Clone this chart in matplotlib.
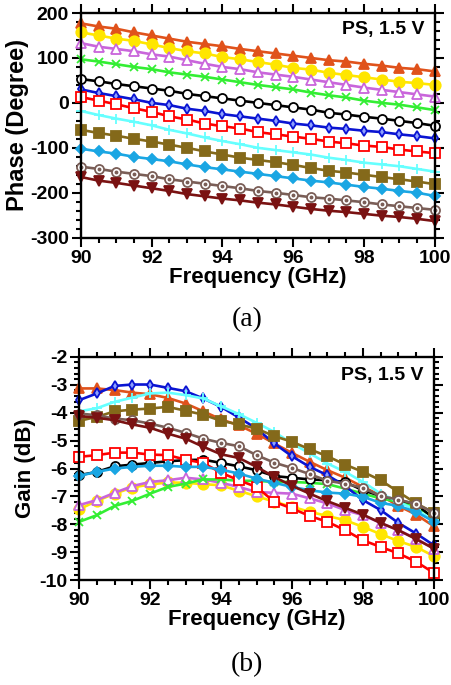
import numpy as np
import matplotlib
matplotlib.use("Agg")
import matplotlib.pyplot as plt
from matplotlib.ticker import MultipleLocator

plt.rcParams["font.family"] = ["Liberation Sans", "DejaVu Sans"]
plt.rcParams["font.weight"] = "bold"
plt.rcParams["axes.unicode_minus"] = False

freq = np.arange(90, 100.01, 0.5)

# phase (degree), top to bottom
ph_orange = [177, 170, 165, 157, 150, 143, 136, 131, 126, 120, 115, 110, 105, 100, 95, 92, 87, 83, 78, 75, 70]
ph_yellow = [157, 150, 143, 138, 130, 122, 115, 110, 102, 97, 91, 85, 78, 74, 67, 62, 57, 52, 47, 44, 40]
ph_violet = [133, 125, 120, 115, 108, 103, 95, 87, 80, 75, 68, 63, 58, 52, 46, 40, 34, 29, 24, 19, 14]
ph_green = [97, 92, 86, 80, 75, 68, 63, 58, 52, 46, 40, 35, 30, 23, 17, 12, 5, 0, -4, -10, -16]
ph_black = [53, 48, 42, 37, 32, 27, 20, 15, 10, 5, 0, -5, -10, -15, -22, -26, -31, -35, -40, -45, -51]
ph_blue = [30, 22, 15, 8, 0, -5, -13, -18, -25, -30, -35, -40, -46, -50, -55, -58, -62, -65, -70, -74, -79]
ph_red = [13, 5, -3, -12, -20, -30, -37, -46, -52, -57, -65, -70, -75, -80, -86, -90, -95, -98, -104, -108, -112]
ph_cyan = [-18, -27, -35, -42, -50, -60, -68, -77, -85, -92, -100, -105, -110, -115, -122, -127, -133, -137, -141, -147, -153]
ph_olive = [-60, -67, -73, -80, -86, -93, -100, -108, -115, -122, -127, -132, -138, -145, -151, -155, -160, -165, -170, -175, -181]
ph_ltblue = [-102, -108, -113, -120, -125, -130, -137, -143, -148, -153, -158, -163, -168, -173, -177, -182, -187, -191, -196, -200, -207]
ph_brown = [-142, -147, -153, -158, -163, -170, -175, -180, -185, -190, -196, -200, -205, -210, -213, -217, -221, -226, -230, -234, -238]
ph_darkred = [-165, -173, -178, -184, -190, -196, -203, -208, -213, -217, -222, -226, -231, -236, -240, -243, -247, -251, -254, -258, -263]

# gain (dB)
g_orange = [-3.13, -3.13, -3.19, -3.28, -3.34, -3.47, -3.67, -3.95, -4.24, -4.45, -4.75, -5.10, -5.44, -5.76, -6.06, -6.33, -6.66, -6.96, -7.34, -7.65, -8.07]
g_yellow = [-7.46, -7.16, -6.90, -6.68, -6.57, -6.50, -6.51, -6.56, -6.60, -6.80, -6.99, -7.19, -7.37, -7.55, -7.70, -7.85, -8.09, -8.35, -8.60, -8.81, -9.14]
g_violet = [-7.31, -7.13, -6.87, -6.63, -6.48, -6.42, -6.33, -6.39, -6.51, -6.66, -6.84, -6.87, -6.90, -7.07, -7.25, -7.49, -7.67, -7.95, -8.21, -8.51, -8.87]
g_green = [-7.91, -7.67, -7.34, -7.16, -6.90, -6.66, -6.54, -6.39, -6.39, -6.44, -6.44, -6.48, -6.48, -6.51, -6.56, -6.72, -6.90, -7.07, -7.19, -7.37, -7.73]
g_black = [-6.24, -6.12, -5.92, -5.86, -5.80, -5.74, -5.70, -5.68, -5.80, -5.92, -6.06, -6.27, -6.33, -6.39, -6.42, -6.48, -6.78, -6.98, -7.13, -7.28, -7.79]
g_blue = [-3.55, -3.31, -3.04, -2.99, -2.99, -3.11, -3.23, -3.49, -3.79, -4.17, -4.57, -5.10, -5.56, -5.94, -6.24, -6.63, -7.13, -7.49, -7.95, -8.33, -8.75]
g_red = [-5.58, -5.52, -5.43, -5.43, -5.50, -5.52, -5.68, -5.80, -6.15, -6.42, -6.66, -7.19, -7.43, -7.70, -7.91, -8.21, -8.57, -8.81, -9.04, -9.34, -9.74]
g_cyan = [-3.95, -3.84, -3.61, -3.46, -3.31, -3.28, -3.37, -3.49, -3.77, -4.05, -4.36, -4.69, -5.10, -5.46, -5.82, -6.12, -6.48, -6.90, -7.19, -7.49, -7.85]
g_olive = [-4.29, -4.15, -3.95, -3.89, -3.85, -3.79, -3.93, -4.07, -4.29, -4.42, -4.57, -4.84, -5.04, -5.31, -5.56, -5.86, -6.12, -6.42, -6.84, -7.25, -7.58]
g_ltblue = [-6.26, -6.12, -6.00, -5.94, -5.90, -5.90, -5.94, -5.94, -6.04, -6.18, -6.36, -6.51, -6.66, -6.78, -6.86, -6.90, -7.01, -7.23, -7.34, -7.55, -7.90]
g_brown = [-4.03, -4.09, -4.21, -4.27, -4.39, -4.54, -4.72, -4.93, -5.08, -5.20, -5.52, -5.79, -5.98, -6.20, -6.44, -6.54, -6.69, -6.99, -7.11, -7.28, -7.58]
g_darkred = [-4.12, -4.18, -4.27, -4.42, -4.54, -4.75, -4.93, -5.22, -5.49, -5.62, -5.94, -6.30, -6.62, -6.90, -7.17, -7.41, -7.65, -7.95, -8.21, -8.53, -8.87]

# color, marker, marker size, marker face
styles = {
    "orange": ("#E0521B", "^", 6.5, None),
    "yellow": ("#FFE600", "o", 7.5, None),
    "violet": ("#C965DB", "^", 6.5, "white"),
    "green": ("#33EE33", "x", 5.5, None),
    "black": ("#000000", "o", 6.5, "white"),
    "blue": ("#0A14D2", "d", 5.5, "#8EA0FF"),
    "red": ("#FF0000", "s", 6.5, "white"),
    "cyan": ("#66FFFF", "+", 7.5, None),
    "olive": ("#84691A", "s", 7.5, None),
    "ltblue": ("#1AA6E3", "D", 5, None),
    "brown": ("#7A5E57", "o", 6.5, "white"),
    "darkred": ("#7A1212", "v", 6.5, None),
}

phase = {"orange": ph_orange, "yellow": ph_yellow, "violet": ph_violet, "green": ph_green,
         "black": ph_black, "blue": ph_blue, "red": ph_red, "cyan": ph_cyan,
         "olive": ph_olive, "ltblue": ph_ltblue, "brown": ph_brown, "darkred": ph_darkred}
gain = {"orange": g_orange, "yellow": g_yellow, "violet": g_violet, "green": g_green,
        "black": g_black, "blue": g_blue, "red": g_red, "cyan": g_cyan,
        "olive": g_olive, "ltblue": g_ltblue, "brown": g_brown, "darkred": g_darkred}


def draw(ax, data):
    for key, vals in data.items():
        c, m, ms, mfc = styles[key]
        ax.plot(freq, vals, color=c, lw=1.9, marker=m, ms=ms,
                mfc=mfc if mfc else c, mec=c, mew=1.3, clip_on=False)
        if key == "brown":
            ax.plot(freq, vals, ls="none", marker="o", ms=1.8, color=c, clip_on=False)


def style_axes(ax, note_y):
    ax.set_xlim(90, 100)
    ax.xaxis.set_major_locator(MultipleLocator(2))
    ax.xaxis.set_minor_locator(MultipleLocator(0.5))
    for s in ax.spines.values():
        s.set_linewidth(1.7)
    ax.tick_params(which="both", direction="out", top=True, right=True, width=1.5, labelsize=14)
    ax.tick_params(which="major", length=6.5, pad=2)
    ax.tick_params(which="minor", length=3.5)
    ax.set_xlabel("Frequency (GHz)", fontsize=16, fontweight="bold", labelpad=0)
    ax.text(0.97, note_y, "PS, 1.5 V", transform=ax.transAxes, ha="right", va="top",
            fontsize=14, fontweight="bold")


fig = plt.figure(figsize=(4.52, 6.85), dpi=100)

ax1 = fig.add_axes([0.179, 0.653, 0.783, 0.328])
draw(ax1, phase)
style_axes(ax1, 0.965)
ax1.set_ylim(-300, 200)
ax1.yaxis.set_major_locator(MultipleLocator(100))
ax1.yaxis.set_minor_locator(MultipleLocator(20))
ax1.set_ylabel("Phase (Degree)", fontsize=17, fontweight="bold", labelpad=1)

ax2 = fig.add_axes([0.175, 0.153, 0.785, 0.326])
draw(ax2, gain)
style_axes(ax2, 0.955)
ax2.set_ylim(-10, -2)
ax2.yaxis.set_major_locator(MultipleLocator(1))
ax2.yaxis.set_minor_locator(MultipleLocator(0.2))
ax2.set_ylabel("Gain (dB)", fontsize=16, fontweight="bold", labelpad=2)

fig.text(0.546, 0.533, "(a)", ha="center", va="center", fontsize=20,
         family=["Liberation Serif"], fontweight="normal")
fig.text(0.546, 0.03, "(b)", ha="center", va="center", fontsize=20,
         family=["Liberation Serif"], fontweight="normal")

fig.savefig("out.png", dpi=100, facecolor="white")
